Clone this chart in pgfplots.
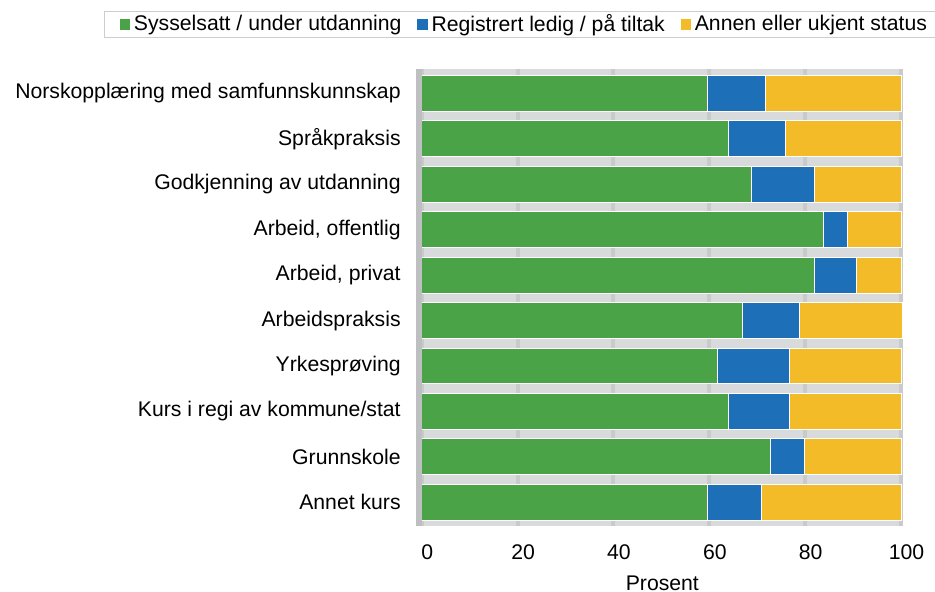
\documentclass[border=0pt]{standalone}
\usepackage{fontspec}
\setmainfont{Liberation Sans}
\usepackage{pgfplots}
\pgfplotsset{compat=1.18}

\definecolor{cgreen}{RGB}{75,163,72}
\definecolor{cblue}{RGB}{29,112,183}
\definecolor{cyellow}{RGB}{244,187,41}
\definecolor{bggray}{RGB}{217,218,219}
\definecolor{gridgray}{RGB}{201,202,204}
\definecolor{axgray}{RGB}{190,191,193}
\definecolor{leggray}{RGB}{205,205,205}

\pgfplotsset{sq/.style={legend image code/.code={\fill[##1,draw=none] (0pt,-2.65pt) rectangle (5.3pt,2.65pt);}}}

\begin{document}
\begin{tikzpicture}[font=\fontsize{10.6}{12.7}\selectfont]
\begin{axis}[
  name=ax,
  scale only axis,
  width=240.65pt, height=228.75pt,
  xbar stacked, bar width=0.79,
  xmin=0, xmax=100.4,
  ymin=-0.545, ymax=9.52, y dir=reverse,
  xtick={0,20,...,100},
  ytick={0,...,9},
  yticklabels={Norskopplæring med samfunnskunnskap, Språkpraksis,
    Godkjenning av utdanning, {Arbeid, offentlig}, {Arbeid, privat},
    Arbeidspraksis, Yrkesprøving, Kurs i regi av kommune/stat,
    Grunnskole, Annet kurs},
  axis background/.style={fill=bggray},
  axis line style={draw=none},
  tick style={draw=none},
  xmajorgrids,
  grid style={line width=2pt, gridgray},
  xticklabel style={/pgf/number format/assume math mode=true, yshift=-6pt, xshift=2.75pt},
  yticklabel style={xshift=-7pt},
  xlabel=Prosent,
  xlabel style={at={(axis description cs:0.5,0)}, anchor=center, yshift=-28.5pt},
  legend columns=3,
  legend cell align=left,
  legend style={at={(axis description cs:0,1)}, anchor=north west,
    xshift=-159pt, yshift=28.75pt, draw=leggray,
    inner xsep=7.8pt, inner ysep=0.5pt,
    nodes={inner xsep=1.85pt, inner ysep=1pt},
    /tikz/every even column/.append style={column sep=6pt}},
]
\addplot[fill=cgreen, draw=white, line width=0.5pt, sq] coordinates {
  (59.7,0) (63.9,1) (68.9,2) (83.9,3) (81.9,4)
  (66.9,5) (61.8,6) (63.9,7) (72.8,8) (59.7,9)};
\addplot[fill=cblue, draw=white, line width=0.5pt, sq] coordinates {
  (12.1,0) (11.9,1) (13.0,2) (5.0,3) (8.9,4)
  (12.0,5) (15.0,6) (12.9,7) (7.1,8) (11.1,9)};
\addplot[fill=cyellow, draw=white, line width=0.5pt, sq] coordinates {
  (28.2,0) (24.2,1) (18.1,2) (11.1,3) (9.2,4)
  (21.4,5) (23.2,6) (23.2,7) (20.1,8) (29.2,9)};
\addlegendentry{Sysselsatt / under utdanning}
\addlegendentry{Registrert ledig / på tiltak}
\addlegendentry{Annen eller ukjent status}
\end{axis}
\draw[line width=2.85pt, axgray] ([xshift=-1.43pt]ax.south west) -- ([xshift=-1.43pt]ax.north west);
\pgfresetboundingbox
\path[use as bounding box] (-210.85pt,-33pt) rectangle (256.65pt,263pt);
\end{tikzpicture}
\end{document}
